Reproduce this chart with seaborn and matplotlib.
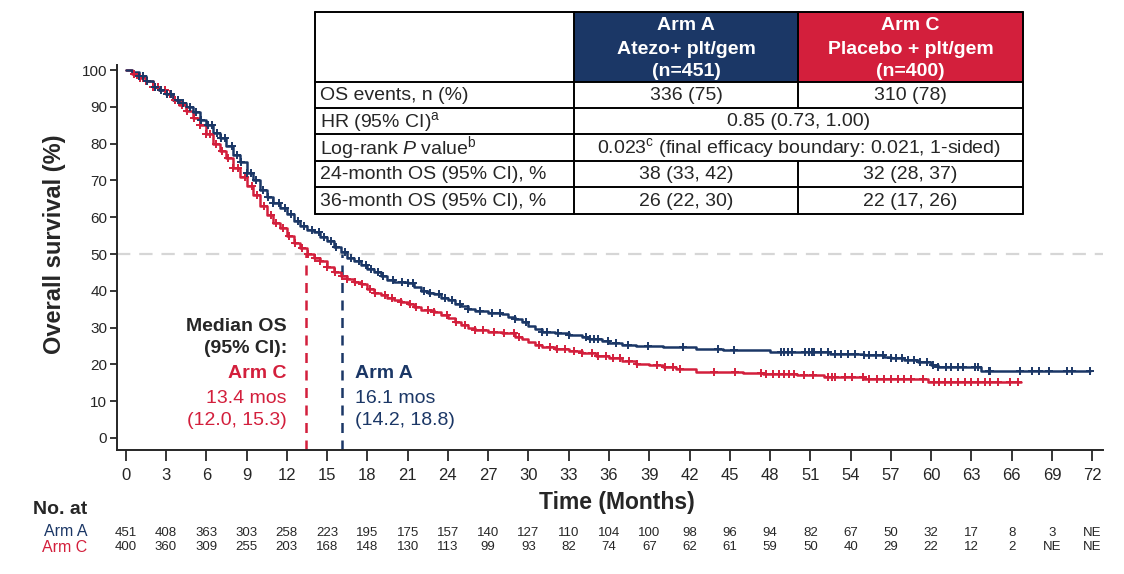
import numpy as np
import matplotlib
matplotlib.use("Agg")
import matplotlib.pyplot as plt
from matplotlib.patches import Rectangle
from matplotlib.transforms import blended_transform_factory
import seaborn as sns

# --- data ---
months_a = [0, 0.5, 1.0, 1.5, 2.0, 2.5, 3.0, 3.5, 4.0, 4.5, 5.0, 5.5, 6.0, 6.5, 7.0, 7.5, 8.0, 8.5,
            9.0, 9.5, 10.0, 10.5, 11.0, 11.5, 12.0, 12.5, 13.0, 13.5, 14.0, 14.5, 15.0, 15.5, 16.0,
            16.5, 17.0, 17.5, 18.0, 18.5, 19.0, 19.5, 20.0, 21.0, 21.5, 22.0, 22.5, 23.0, 23.5, 24.0,
            24.5, 25.0, 25.5, 26.0, 27.0, 28.0, 28.5, 29.0, 29.5, 30.0, 30.5, 31.0, 32.0, 33.0, 34.0,
            34.5, 35.5, 36.0, 37.0, 38.0, 40.0, 42.5, 44.5, 48.0, 52.5, 55.0, 56.5, 57.0, 58.0, 59.0,
            60.0, 60.5, 63.7, 71.8]
surv_a = [100, 99.5, 98.5, 97, 95.5, 94.5, 93.5, 92, 91, 90, 88.5, 86.5, 85, 83, 81.5, 79.5, 77, 75,
          72, 70, 67.5, 65.5, 64, 62.5, 61, 59, 57.5, 56.5, 56, 54.5, 53.5, 52, 50.5,
          49, 48, 47, 46, 45, 44, 43, 42.5, 42, 41, 40, 39.5, 39, 38, 37.5,
          36.5, 35.8, 35, 34.5, 34, 33.8, 33, 32.3, 31.5, 30.5, 29.5, 28.7, 28.4, 28, 27.5,
          26.8, 26.3, 25.8, 25.3, 24.9, 24.6, 24.1, 23.9, 23.4, 22.9, 22.6, 22.0, 21.7, 21.2, 20.5,
          19.8, 19.4, 18.2, 18.2]

months_c = [0, 0.5, 1.0, 1.5, 2.0, 2.5, 3.0, 3.5, 4.0, 4.5, 5.0, 5.5, 6.0, 6.5, 7.0, 7.5, 8.0, 8.5,
            9.0, 9.5, 10.0, 10.5, 11.0, 11.5, 12.0, 12.5, 13.0, 13.5, 14.0, 14.5, 15.0, 15.5, 16.0,
            16.5, 17.0, 17.5, 18.0, 18.5, 19.0, 19.5, 20.0, 20.5, 21.0, 21.5, 22.0, 23.0, 23.5, 24.0,
            24.5, 25.0, 25.5, 26.0, 27.0, 28.0, 29.0, 29.5, 30.0, 30.5, 31.0, 32.0, 33.0, 34.0, 35.0,
            36.0, 37.0, 38.0, 39.0, 40.0, 41.0, 42.5, 46.0, 47.5, 50.0, 52.0, 55.0, 59.8, 66.7]
surv_c = [100, 99, 98, 97, 95.5, 94.5, 93.5, 92, 90.5, 89, 87, 85, 82.5, 80, 78, 76, 73.5, 71,
          68.5, 66, 63, 60.5, 58.5, 57, 55, 53, 51.5, 50, 49, 48, 46.5, 45, 44,
          43.2, 42.5, 41.8, 40.5, 39.5, 38.8, 38, 37.5, 37, 36.5, 35.5, 34.8, 34.2, 33.4, 32.5,
          31.5, 30.7, 30, 29.3, 28.8, 28.4, 27.5, 27, 26, 25.2, 24.8, 24.2, 23.5, 23.0, 22.3,
          21.8, 20.9, 20.2, 19.8, 19.2, 18.7, 18.0, 17.6, 17.3, 17.0, 16.6, 16.0, 15.2, 15.2]

censor_a = [1.0, 1.3, 1.6, 2.2, 2.6, 3.1, 3.4, 3.9, 4.3, 4.8, 5.2, 5.6, 6.1, 6.4, 6.8, 7.1, 7.4, 7.9,
            8.3, 8.6, 9.0, 9.3, 9.7, 10.2, 10.6, 11.0, 11.4, 11.9, 12.3, 12.8, 13.3, 13.9, 14.4,
            14.8, 15.3, 15.7, 16.3, 16.8, 17.4, 17.9, 18.3, 18.8, 19.2, 19.9, 20.6, 21.0, 21.4, 22.2,
            22.7, 23.3, 23.8, 24.3, 24.9, 25.5, 26.4, 27.3, 27.9, 29.0, 29.8, 31.0, 31.4, 32.2, 33.0,
            34.3, 34.6, 34.9, 35.2, 35.9, 36.5, 37.4, 38.9, 41.5, 44.1, 45.3, 48.8, 49.0, 49.3, 49.6,
            50.6, 50.9, 51.1, 51.3, 51.8, 52.3, 52.8, 53.3, 53.8, 54.3, 55.0, 55.4, 55.9, 56.4, 57.0,
            57.4, 57.8, 58.3, 58.7, 59.2, 59.7, 60.1, 60.5, 61.1, 61.5, 62.0, 62.4, 63.3, 63.5, 64.3,
            64.4, 66.6, 67.5, 68.0, 68.8, 70.1, 70.5, 71.8]
censor_c = [0.6, 1.1, 1.5, 2.0, 2.4, 2.9, 3.3, 3.7, 4.2, 4.6, 5.1, 5.5, 6.0, 6.3, 6.7, 7.2, 7.6, 8.0,
            8.4, 8.9, 9.4, 9.8, 10.3, 10.8, 11.2, 11.7, 12.2, 12.6, 13.1, 13.6, 14.1, 14.5, 15.0,
            15.6, 16.1, 16.5, 17.1, 17.6, 18.2, 18.6, 19.3, 19.8, 20.5, 21.2, 21.6, 22.5, 23.0, 23.9,
            24.6, 25.3, 26.0, 26.6, 27.4, 28.2, 28.9, 29.3, 30.8, 31.6, 32.1, 32.7, 33.4, 34.0, 34.7,
            35.2, 35.8, 36.3, 36.8, 37.5, 38.1, 39.6, 40.2, 40.8, 41.3, 43.8, 45.4, 47.3, 47.7, 48.2,
            48.7, 49.0, 49.4, 49.8, 50.5, 51.2, 52.3, 52.6, 52.8, 53.6, 54.1, 54.9, 55.4, 56.0, 56.5,
            57.0, 57.5, 58.0, 58.5, 59.4, 60.2, 60.6, 61.0, 61.5, 62.0, 62.5, 63.0, 63.5, 64.0, 64.4,
            65.0, 65.9, 66.5]

median_a = 16.1
median_c = 13.4

risk_times = list(range(0, 73, 3))
risk_a = ["451", "408", "363", "303", "258", "223", "195", "175", "157", "140", "127", "110", "104",
          "100", "98", "96", "94", "82", "67", "50", "32", "17", "8", "3", "NE"]
risk_c = ["400", "360", "309", "255", "203", "168", "148", "130", "113", "99", "93", "82", "74",
          "67", "62", "61", "59", "50", "40", "29", "22", "12", "2", "NE", "NE"]

table_rows = ["OS events, n (%)", r"HR (95% CI)$^\mathregular{a}$",
              r"Log-rank $P$ value$^\mathregular{b}$",
              "24-month OS (95% CI), %", "36-month OS (95% CI), %"]
table_a = ["336 (75)", None, None, "38 (33, 42)", "26 (22, 30)"]
table_c = ["310 (78)", None, None, "32 (28, 37)", "22 (17, 26)"]
table_merged = [None, "0.85 (0.73, 1.00)",
                r"0.023$^\mathregular{c}$ (final efficacy boundary: 0.021, 1-sided)", None, None]
header_a = ["Arm A", "Atezo+ plt/gem", "(n=451)"]
header_c = ["Arm C", "Placebo + plt/gem", "(n=400)"]

BLUE = "#1b3766"
RED = "#d31f3c"

sns.set_style("ticks")
plt.rcParams["font.family"] = ["Liberation Sans", "DejaVu Sans"]
plt.rcParams["mathtext.fontset"] = "custom"
plt.rcParams["mathtext.rm"] = "Liberation Sans"
plt.rcParams["mathtext.it"] = "Liberation Sans:italic"
plt.rcParams["mathtext.bf"] = "Liberation Sans:bold"

fig = plt.figure(figsize=(11.24, 5.74), dpi=100)
ax = fig.add_axes([117 / 1124, 1 - 450 / 574, 986 / 1124, 385 / 574])


def step_y(times, surv, pts):
    times = np.asarray(times)
    surv = np.asarray(surv)
    idx = np.searchsorted(times, pts, side="right") - 1
    return surv[idx]


ax.axhline(50, color="#d6d6d6", lw=1.6, ls=(0, (6, 4)), zorder=0)

for t, s, cens, col in [(months_c, surv_c, censor_c, RED), (months_a, surv_a, censor_a, BLUE)]:
    sns.lineplot(x=t, y=s, ax=ax, color=col, lw=1.8, drawstyle="steps-post",
                 estimator=None, sort=False)
    sns.scatterplot(x=cens, y=step_y(t, s, cens), ax=ax, color=col, marker="+",
                    s=30, linewidth=1.4, zorder=3)

ax.plot([median_c, median_c], [-3.3, 50], color=RED, lw=1.8, ls=(0, (4, 3)))
ax.plot([median_a, median_a], [-3.3, 50], color=BLUE, lw=1.8, ls=(0, (4, 3)))

ax.set_xlim(-0.65, 72.8)
ax.set_ylim(-3.3, 101.4)
ax.set_xticks(risk_times)
ax.set_yticks(range(0, 101, 10))
ax.spines[["top", "right"]].set_visible(False)
for sp in ["left", "bottom"]:
    ax.spines[sp].set_linewidth(1.4)
ax.tick_params(axis="y", length=5, width=1.3, labelsize=11, pad=2)
ax.tick_params(axis="x", length=8, width=1.3, labelsize=12, pad=5)
ax.set_ylabel("Overall survival (%)", fontsize=17, fontweight="bold")
ax.set_xlabel("")
ax.yaxis.set_label_coords(-0.052, 0.535)

# median annotation, one line at a time
fs = 14
ax.text(12.0, 30.4, "Median OS", ha="right", va="center", fontsize=fs, fontweight="bold")
ax.text(12.0, 24.2, "(95% CI):", ha="right", va="center", fontsize=fs, fontweight="bold")
ax.text(12.0, 17.4, "Arm C", ha="right", va="center", fontsize=fs, fontweight="bold", color=RED)
ax.text(12.0, 10.8, f"{median_c} mos", ha="right", va="center", fontsize=fs, color=RED)
ax.text(12.0, 4.6, "(12.0, 15.3)", ha="right", va="center", fontsize=fs, color=RED)
ax.text(17.05, 17.4, "Arm A", ha="left", va="center", fontsize=fs, fontweight="bold", color=BLUE)
ax.text(17.05, 10.8, f"{median_a} mos", ha="left", va="center", fontsize=fs, color=BLUE)
ax.text(17.05, 4.6, "(14.2, 18.8)", ha="left", va="center", fontsize=fs, color=BLUE)

# x label and numbers at risk
fig.text(617 / 1124, 1 - 503 / 574, "Time (Months)", ha="center", va="center",
         fontsize=16.5, fontweight="bold")
fig.text(87 / 1124, 1 - 510 / 574, "No. at", ha="right", va="center", fontsize=14,
         fontweight="bold")
fig.text(87 / 1124, 1 - 531 / 574, "Arm A", ha="right", va="center", fontsize=11.5, color=BLUE)
fig.text(87 / 1124, 1 - 547 / 574, "Arm C", ha="right", va="center", fontsize=11.5, color=RED)
tr = blended_transform_factory(ax.transData, fig.transFigure)
for x, a, c in zip(risk_times, risk_a, risk_c):
    ax.text(x, 1 - 533 / 574, a, transform=tr, ha="center", va="center", fontsize=9.5)
    ax.text(x, 1 - 547 / 574, c, transform=tr, ha="center", va="center", fontsize=9.5)

# summary table drawn on an overlay in pixel coordinates
ov = fig.add_axes([0, 0, 1, 1])
ov.set_xlim(0, 1124)
ov.set_ylim(574, 0)
ov.axis("off")
xe = [315, 574, 798, 1023]
ye = [12, 82, 108, 134, 161, 187, 214]
tfs = 14
ov.add_patch(Rectangle((xe[1], ye[0]), xe[2] - xe[1], ye[1] - ye[0], fc=BLUE, ec="none"))
ov.add_patch(Rectangle((xe[2], ye[0]), xe[3] - xe[2], ye[1] - ye[0], fc=RED, ec="none"))
for k, yl in enumerate([26, 49, 71]):
    ov.text((xe[1] + xe[2]) / 2, yl, header_a[k], ha="center", va="center", color="white",
            fontsize=tfs, fontweight="bold")
    ov.text((xe[2] + xe[3]) / 2, yl, header_c[k], ha="center", va="center", color="white",
            fontsize=tfs, fontweight="bold")
lw = 1.4
for y in ye:
    ov.plot([xe[0], xe[3]], [y, y], color="black", lw=lw)
ov.plot([xe[0], xe[0]], [ye[0], ye[-1]], color="black", lw=lw)
ov.plot([xe[3], xe[3]], [ye[0], ye[-1]], color="black", lw=lw)
ov.plot([xe[1], xe[1]], [ye[0], ye[-1]], color="black", lw=lw)
for i in range(len(table_rows)):
    y0, y1 = ye[i + 1], ye[i + 2]
    ym = (y0 + y1) / 2 + 0.5
    ov.text(xe[0] + 5, ym, table_rows[i], ha="left", va="center", fontsize=tfs)
    if table_merged[i] is not None:
        ov.text((xe[1] + xe[3]) / 2, ym, table_merged[i], ha="center", va="center", fontsize=tfs)
    else:
        ov.plot([xe[2], xe[2]], [y0, y1], color="black", lw=lw)
        ov.text((xe[1] + xe[2]) / 2, ym, table_a[i], ha="center", va="center", fontsize=tfs)
        ov.text((xe[2] + xe[3]) / 2, ym, table_c[i], ha="center", va="center", fontsize=tfs)
ov.plot([xe[2], xe[2]], [ye[0], ye[1]], color="black", lw=lw)

fig.savefig("out.png", dpi=100)
